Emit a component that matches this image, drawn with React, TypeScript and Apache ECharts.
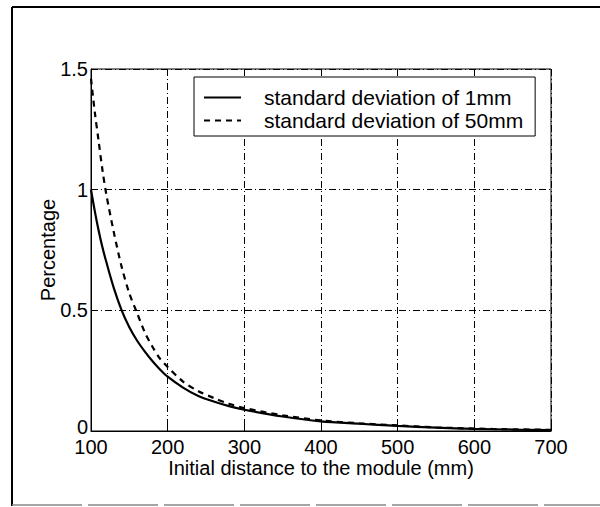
import React, { useEffect, useRef } from "react";
import * as echarts from "echarts";

const distances = [100, 105, 110, 115, 120, 130, 140, 150, 160, 170, 180, 190, 200, 220, 240, 260, 280, 300, 350, 400, 450, 500, 550, 600, 650, 700];
const sd1mm = [1.0, 0.91, 0.83, 0.76, 0.7, 0.59, 0.5, 0.43, 0.375, 0.33, 0.29, 0.255, 0.225, 0.18, 0.145, 0.122, 0.103, 0.088, 0.06, 0.04, 0.03, 0.021, 0.014, 0.009, 0.006, 0.004];
const sd50mm = [1.46, 1.32, 1.2, 1.08, 0.98, 0.82, 0.68, 0.57, 0.49, 0.41, 0.35, 0.3, 0.265, 0.205, 0.165, 0.137, 0.113, 0.095, 0.065, 0.044, 0.032, 0.023, 0.015, 0.01, 0.007, 0.005];
const seriesNames = ["standard deviation of 1mm", "standard deviation of 50mm"];
const xAxisName = "Initial distance to the module (mm)";
const yAxisName = "Percentage";

const FONT = "'Liberation Sans', Arial, Helvetica, sans-serif";

export default function App() {
  const ref = useRef<HTMLDivElement>(null);
  useEffect(() => {
    if (!ref.current) return;
    const chart = echarts.init(ref.current, null, { renderer: "svg" });
    const gridLine = { show: true, lineStyle: { color: "#000", width: 1, type: [7, 3, 1, 3] } };
    chart.setOption({
      animation: false,
      backgroundColor: "#fff",
      textStyle: { fontFamily: FONT },
      grid: { left: 91, top: 69, right: 49, bottom: 76, show: true, borderColor: "#000", borderWidth: 1 },
      legend: {
        orient: "vertical",
        left: 194,
        top: 77,
        padding: [10, 12, 5, 9],
        itemGap: 2,
        itemWidth: 37,
        itemHeight: 20,
        borderColor: "#000",
        borderWidth: 1,
        backgroundColor: "#fff",
        itemStyle: { color: "transparent", borderWidth: 0, opacity: 0 },
        textStyle: { fontFamily: FONT, fontSize: 21, color: "#000", padding: [0, 0, 0, 18] },
        data: seriesNames,
      },
      xAxis: {
        type: "value",
        min: 100,
        max: 700,
        interval: 100,
        name: xAxisName,
        nameLocation: "middle",
        nameGap: 27,
        nameMoveOverlap: false,
        nameTextStyle: { fontFamily: FONT, fontSize: 20, color: "#000" },
        axisLine: { show: true, lineStyle: { color: "#000", width: 1 } },
        axisTick: { show: true, inside: true, length: 5, lineStyle: { color: "#000" } },
        axisLabel: { fontFamily: FONT, fontSize: 20, color: "#000", margin: 6 },
        splitLine: gridLine,
      },
      yAxis: {
        type: "value",
        min: 0,
        max: 1.5,
        interval: 0.5,
        name: yAxisName,
        nameLocation: "middle",
        nameGap: 33,
        nameMoveOverlap: false,
        nameTextStyle: { fontFamily: FONT, fontSize: 20, color: "#000" },
        axisLine: { show: true, lineStyle: { color: "#000", width: 1 } },
        axisTick: { show: true, inside: true, length: 5, lineStyle: { color: "#000" } },
        axisLabel: {
          fontFamily: FONT,
          fontSize: 20,
          color: "#000",
          margin: 3,
          formatter: (v: number) => (v === 0 ? "{z|0}" : String(v)),
          rich: { z: { fontFamily: FONT, fontSize: 20, color: "#000", padding: [0, 0, 8, 0] } },
        },
        splitLine: gridLine,
      },
      series: [
        {
          name: seriesNames[0],
          type: "line",
          data: distances.map((d, i) => [d, sd1mm[i]]),
          showSymbol: false,
          symbol: "none",
          smooth: 0.3,
          lineStyle: { color: "#000", width: 2.2, type: "solid" },
          itemStyle: { color: "#000" },
          z: 5,
        },
        {
          name: seriesNames[1],
          type: "line",
          data: distances.map((d, i) => [d, sd50mm[i]]),
          showSymbol: false,
          symbol: "none",
          smooth: 0.3,
          lineStyle: { color: "#000", width: 2.2, type: [6, 5] },
          itemStyle: { color: "#000" },
          z: 5,
        },
      ],
      graphic: [
        { type: "line", shape: { x1: 12, y1: 7, x2: 600, y2: 7 }, style: { stroke: "#000", lineWidth: 2 } },
        { type: "line", shape: { x1: 12, y1: 7, x2: 12, y2: 506 }, style: { stroke: "#000", lineWidth: 2 } },
        { type: "line", shape: { x1: 12, y1: 505, x2: 600, y2: 505 }, style: { stroke: "#888", lineWidth: 1.5, lineDash: [70, 6] } },
      ],
    });
    return () => chart.dispose();
  }, []);
  return <div ref={ref} style={{ position: "fixed", left: 0, top: 0, width: 600, height: 507 }} />;
}
